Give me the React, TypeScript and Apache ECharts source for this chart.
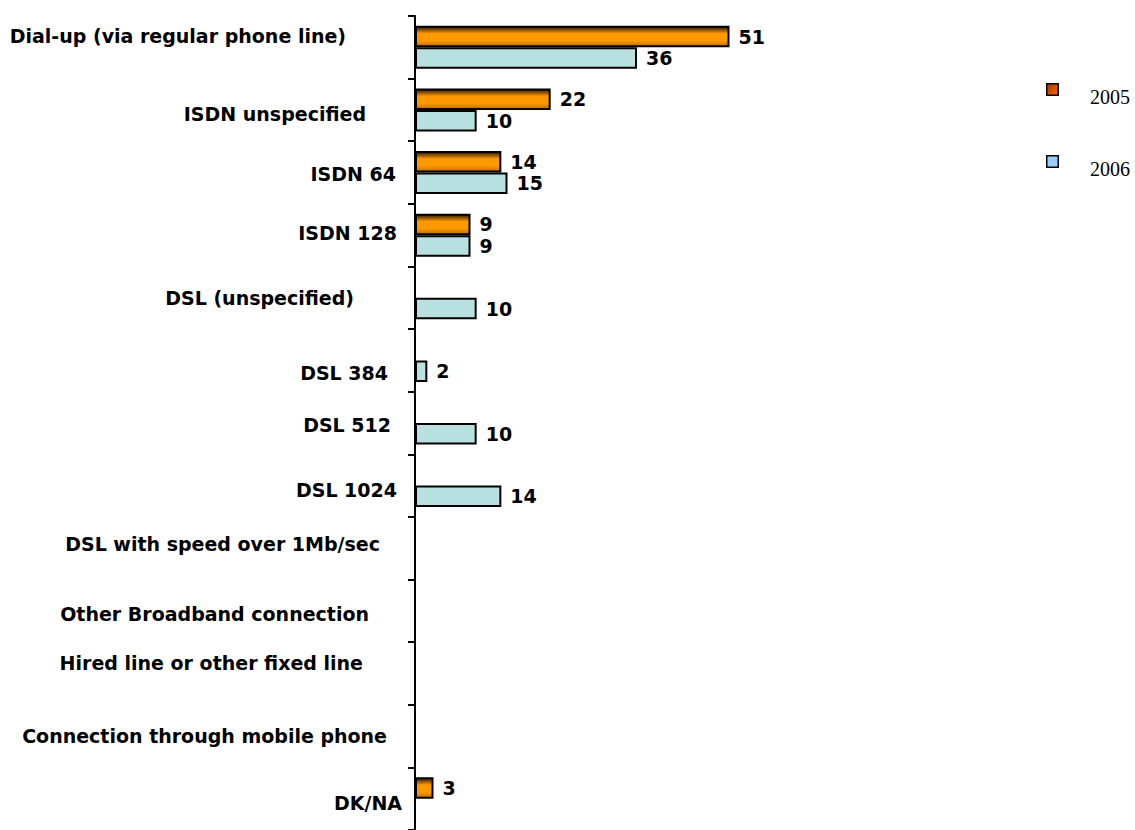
import React, { useEffect, useRef } from "react";
import * as echarts from "echarts";

const categories = [
  "Dial-up (via regular phone line)",
  "ISDN unspecified",
  "ISDN 64",
  "ISDN 128",
  "DSL (unspecified)",
  "DSL 384",
  "DSL 512",
  "DSL 1024",
  "DSL with speed over 1Mb/sec",
  "Other Broadband connection",
  "Hired line or other fixed line",
  "Connection through mobile phone",
  "DK/NA",
];

const seriesNames = ["2005", "2006"];
const values2005: (number | string)[] = [51, 22, 14, 9, "-", "-", "-", "-", "-", "-", "-", "-", 3];
const values2006: (number | string)[] = [36, 10, 15, 9, 10, 2, 10, 14, "-", "-", "-", "-", "-"];

// layout of the category labels (right edge in px, vertical shift in px)
const labelRight = [346, 366, 396, 397, 354, 388, 391, 397, 380, 369, 363, 387, 402];
const labelShift = [-11, 4, 1.5, -2, 0.5, 13, 2, 4, -4.5, 3, -10, -0.5, 4];

const AXIS_X = 415;
const LABEL_MARGIN = 12;

export default function App() {
  const ref = useRef<HTMLDivElement>(null);

  useEffect(() => {
    if (!ref.current) return;
    const chart = echarts.init(ref.current, null, { renderer: "svg" });

    const anchor = AXIS_X - LABEL_MARGIN;
    const rich: Record<string, any> = {};
    categories.forEach((_, i) => {
      const dy = labelShift[i];
      rich["c" + i] = {
        fontFamily: "DejaVu Sans",
        fontWeight: "bold",
        fontSize: 19,
        color: "#000",
        padding: [dy > 0 ? 2 * dy : 0, Math.max(0, anchor - labelRight[i]), dy < 0 ? -2 * dy : 0, 0],
      };
    });

    const orange = new echarts.graphic.LinearGradient(0, 0, 0, 1, [
      { offset: 0, color: "#2e1600" },
      { offset: 0.35, color: "#ff9900" },
      { offset: 0.7, color: "#ff9900" },
      { offset: 1, color: "#c07000" },
    ]);
    const legendOrange = new echarts.graphic.LinearGradient(0, 0, 1, 1, [
      { offset: 0, color: "#a83000" },
      { offset: 1, color: "#ff6a00" },
    ]);
    const legendFills = [legendOrange, "#99ccff"];
    const legendTop = [83, 155];

    const legendGraphics: any[] = [];
    seriesNames.forEach((name, i) => {
      legendGraphics.push({
        type: "rect",
        shape: { x: 1046.75, y: legendTop[i] + 0.75, width: 11.5, height: 11.5 },
        style: { fill: legendFills[i], stroke: "#000", lineWidth: 1.5 },
      });
      legendGraphics.push({
        type: "text",
        x: 1090,
        y: legendTop[i] + 14,
        style: {
          text: name,
          fontFamily: "Liberation Serif",
          fontSize: 20,
          fill: "#000",
          textVerticalAlign: "middle",
          verticalAlign: "middle",
        },
      });
    });

    const labelStyle = {
      show: true,
      position: "right" as const,
      distance: 9,
      fontFamily: "DejaVu Sans",
      fontWeight: "bold" as const,
      fontSize: 19,
      color: "#000",
    };

    chart.setOption({
      animation: false,
      backgroundColor: "#fff",
      grid: { left: AXIS_X, top: 16, width: 370, height: 817, containLabel: false },
      xAxis: { type: "value", min: 0, max: 60, show: false },
      yAxis: {
        type: "category",
        inverse: true,
        data: categories,
        axisLine: { show: true, lineStyle: { color: "#000", width: 2 } },
        axisTick: { show: true, length: 7, lineStyle: { color: "#000", width: 2 } },
        axisLabel: {
          margin: LABEL_MARGIN,
          formatter: (v: string) => {
            const i = categories.indexOf(v);
            return "{c" + i + "|" + v + "}";
          },
          rich,
        },
        splitLine: { show: false },
      },
      graphic: legendGraphics,
      series: [
        {
          name: seriesNames[0],
          type: "bar",
          data: values2005,
          barWidth: 21.5,
          barGap: "0%",
          itemStyle: { color: orange, borderColor: "#000", borderWidth: 2 },
          label: labelStyle,
        },
        {
          name: seriesNames[1],
          type: "bar",
          data: values2006,
          barWidth: 21.5,
          barGap: "0%",
          itemStyle: { color: "#b9e0e0", borderColor: "#000", borderWidth: 2 },
          label: labelStyle,
        },
      ],
    });

    return () => chart.dispose();
  }, []);

  return (
    <div
      ref={ref}
      style={{ position: "absolute", left: 0, top: 0, width: 1135, height: 830 }}
    />
  );
}
